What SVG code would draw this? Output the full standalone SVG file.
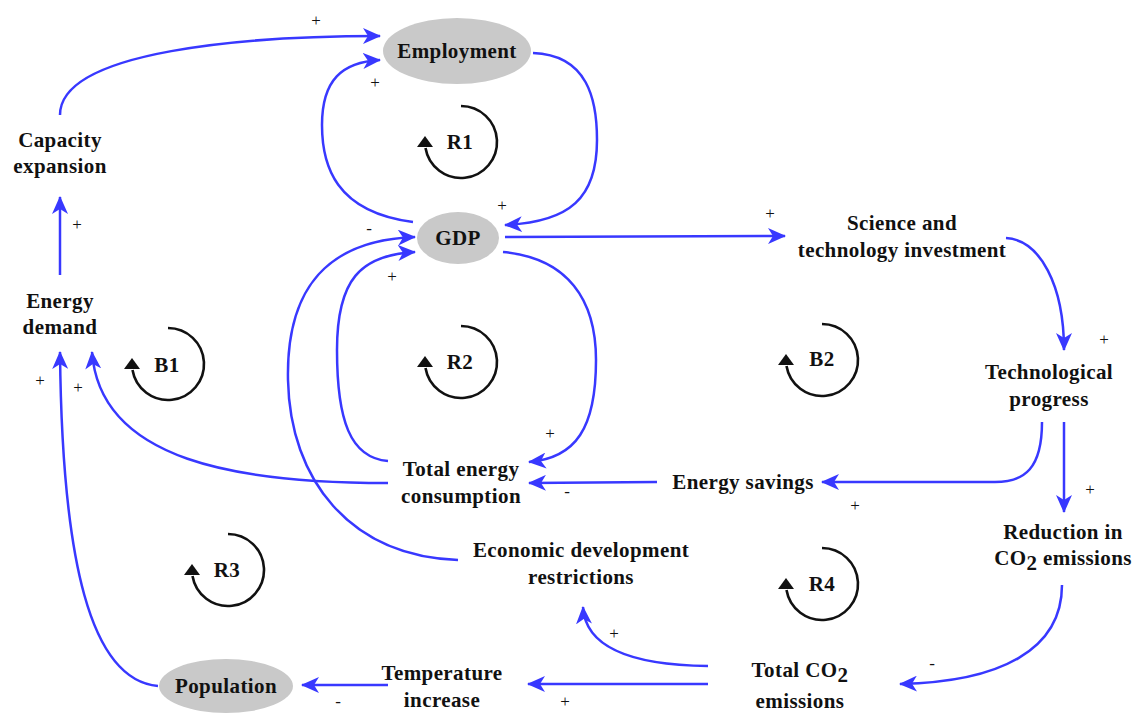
<svg xmlns="http://www.w3.org/2000/svg" xmlns:xlink="http://www.w3.org/1999/xlink" width="1134" height="713" viewBox="0 0 1134 713">
  <style>
    .lbl { font-family: "Liberation Serif", "Times New Roman", serif; font-weight: bold; font-size: 21px; letter-spacing: 0.4px; fill: #111; text-anchor: middle; }
    .sign { font-family: "Liberation Serif", "Times New Roman", serif; font-size: 17px; fill: #111; text-anchor: middle; }
    .oval { fill: #c9c9c9; stroke: none; }
    .link { fill: none; stroke: #3838ff; stroke-width: 2.5; marker-end: url(#arrow); }
    .loop { fill: none; stroke: #111; stroke-width: 2.6; }
    .loophead { fill: #111; }
  </style>
  <defs>
    <marker id="arrow" viewBox="0 0 18 16" refX="17" refY="8" markerWidth="18" markerHeight="16" markerUnits="userSpaceOnUse" orient="auto">
      <path d="M0,0 L18,8 L0,16 L5,8 Z" fill="#3838ff"/>
    </marker>
    <!-- loop indicator: clockwise arc with an up-pointing head on the left -->
    <g id="loopmark">
      <path class="loop" d="M0,-36 A36,36 0 1 1 -35.5,6"/>
      <path class="loophead" d="M-36,-6 L-44,5 L-28,5 Z"/>
    </g>
  </defs>

  <!-- connectors -->
  <g id="connectors">
    <path class="link" d="M60,115 C60,50 250,36 380,36"/>
    <path class="link" d="M413,222 C335,212 322,165 322,125 C322,80 342,62 380,60"/>
    <path class="link" d="M533,53 C588,55 597,100 597,140 C597,198 570,222 505,225"/>
    <path class="link" d="M505,237 L785,236"/>
    <path class="link" d="M1006,238 C1040,240 1064,285 1064,350"/>
    <path class="link" d="M1064,422 L1064,512"/>
    <path class="link" d="M1042,422 C1042,468 1025,482 995,482 L822,482"/>
    <path class="link" d="M657,482 L529,483"/>
    <path class="link" d="M503,252 C568,258 596,300 596,360 C596,428 576,458 529,462"/>
    <path class="link" d="M388,461 C350,458 337,420 337,350 C337,280 360,255 415,252"/>
    <path class="link" d="M388,483 C240,483 100,462 92,352"/>
    <path class="link" d="M158,686 C90,680 62,560 60,352"/>
    <path class="link" d="M60,275 L60,197"/>
    <path class="link" d="M458,560 C350,556 290,480 288,380 C286,285 330,240 415,237"/>
    <path class="link" d="M708,666 C620,665 585,642 583,607"/>
    <path class="link" d="M708,684 L528,684"/>
    <path class="link" d="M388,685 L302,685"/>
    <path class="link" d="M1062,585 C1062,650 1000,682 900,684"/>
  </g>

  <!-- polarity signs -->
  <g id="signs">
    <text class="sign" x="316" y="26">+</text>
    <text class="sign" x="375" y="88">+</text>
    <text class="sign" x="502" y="211">+</text>
    <text class="sign" x="369" y="234">-</text>
    <text class="sign" x="392" y="282">+</text>
    <text class="sign" x="770" y="219">+</text>
    <text class="sign" x="1104" y="345">+</text>
    <text class="sign" x="1090" y="495">+</text>
    <text class="sign" x="855" y="511">+</text>
    <text class="sign" x="567" y="497">-</text>
    <text class="sign" x="550" y="439">+</text>
    <text class="sign" x="77" y="230">+</text>
    <text class="sign" x="40" y="386">+</text>
    <text class="sign" x="78" y="393">+</text>
    <text class="sign" x="614" y="639">+</text>
    <text class="sign" x="565" y="707">+</text>
    <text class="sign" x="338" y="707">-</text>
    <text class="sign" x="932" y="669">-</text>
  </g>

  <!-- loop markers -->
  <g id="loop-R1"><use xlink:href="#loopmark" x="461" y="142"/><text class="lbl" x="460" y="149">R1</text></g>
  <g id="loop-B1"><use xlink:href="#loopmark" x="168" y="364"/><text class="lbl" x="167" y="372">B1</text></g>
  <g id="loop-R2"><use xlink:href="#loopmark" x="461" y="362"/><text class="lbl" x="460" y="369">R2</text></g>
  <g id="loop-B2"><use xlink:href="#loopmark" x="822" y="360"/><text class="lbl" x="822" y="366">B2</text></g>
  <g id="loop-R3"><use xlink:href="#loopmark" x="228" y="570"/><text class="lbl" x="227" y="577">R3</text></g>
  <g id="loop-R4"><use xlink:href="#loopmark" x="822" y="584"/><text class="lbl" x="822" y="591">R4</text></g>

  <!-- nodes -->
  <g id="node-employment">
    <ellipse class="oval" cx="457" cy="51" rx="74" ry="33"/>
    <text class="lbl" x="457" y="58">Employment</text>
  </g>
  <g id="node-gdp">
    <ellipse class="oval" cx="458" cy="238" rx="41" ry="26"/>
    <text class="lbl" x="458" y="245">GDP</text>
  </g>
  <g id="node-population">
    <ellipse class="oval" cx="226" cy="686" rx="67" ry="27"/>
    <text class="lbl" x="226" y="693">Population</text>
  </g>
  <g id="node-capacity">
    <text class="lbl" x="60" y="147">Capacity</text>
    <text class="lbl" x="60" y="173">expansion</text>
  </g>
  <g id="node-energy-demand">
    <text class="lbl" x="60" y="308">Energy</text>
    <text class="lbl" x="60" y="334">demand</text>
  </g>
  <g id="node-st-investment">
    <text class="lbl" x="902" y="230">Science and</text>
    <text class="lbl" x="902" y="257">technology investment</text>
  </g>
  <g id="node-tech-progress">
    <text class="lbl" x="1049" y="379">Technological</text>
    <text class="lbl" x="1049" y="406">progress</text>
  </g>
  <g id="node-energy-savings">
    <text class="lbl" x="743" y="489">Energy savings</text>
  </g>
  <g id="node-total-energy">
    <text class="lbl" x="461" y="476">Total energy</text>
    <text class="lbl" x="461" y="503">consumption</text>
  </g>
  <g id="node-econ-restrictions">
    <text class="lbl" x="581" y="557">Economic development</text>
    <text class="lbl" x="581" y="584">restrictions</text>
  </g>
  <g id="node-co2-reduction">
    <text class="lbl" x="1063" y="539">Reduction in</text>
    <text class="lbl" x="1063" y="565">CO<tspan dy="5">2</tspan><tspan dy="-5"> emissions</tspan></text>
  </g>
  <g id="node-total-co2">
    <text class="lbl" x="800" y="677">Total CO<tspan dy="5">2</tspan></text>
    <text class="lbl" x="800" y="708">emissions</text>
  </g>
  <g id="node-temperature">
    <text class="lbl" x="442" y="680">Temperature</text>
    <text class="lbl" x="442" y="707">increase</text>
  </g>
</svg>
